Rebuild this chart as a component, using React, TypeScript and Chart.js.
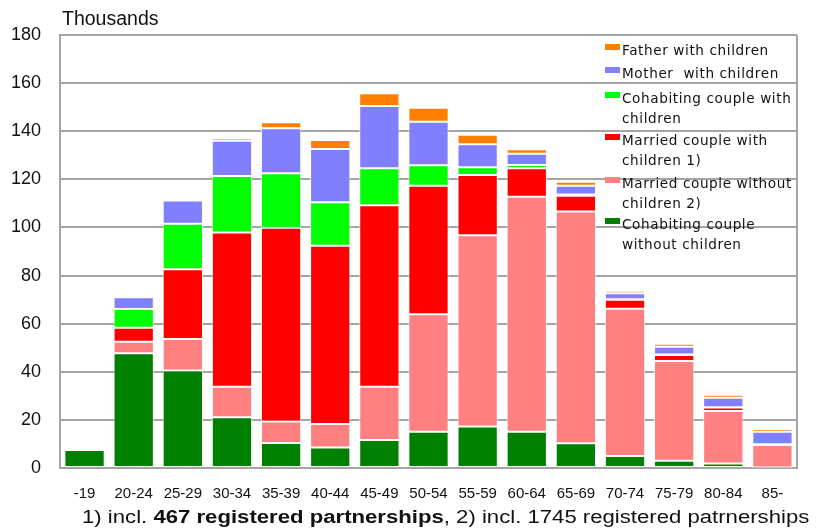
import React, { useEffect, useRef } from "react";
import { Chart, registerables } from "chart.js";

Chart.register(...registerables);

const categories = ["-19", "20-24", "25-29", "30-34", "35-39", "40-44", "45-49", "50-54", "55-59", "60-64", "65-69", "70-74", "75-79", "80-84", "85-"];

const cohabWithout = [7.5, 47.7, 40.5, 21.1, 10.4, 8.5, 11.6, 15.1, 17.2, 15.1, 10.3, 5.0, 3.0, 1.9, 0.2];
const marriedWithout = [0, 4.8, 13.1, 12.7, 8.9, 9.8, 22.2, 48.8, 79.6, 97.7, 96.3, 61.2, 41.5, 21.8, 9.4];
const marriedWith = [0, 5.8, 29.0, 64.1, 80.6, 74.1, 75.4, 53.4, 25.0, 11.8, 6.6, 3.7, 2.5, 1.4, 0.2];
const cohabWith = [0, 7.8, 18.9, 23.5, 22.6, 18.1, 15.4, 8.6, 3.2, 1.4, 0.5, 0.3, 0.2, 0.2, 0.1];
const mother = [0, 4.9, 9.7, 14.6, 18.7, 22.1, 25.9, 18.0, 9.6, 4.6, 3.6, 2.4, 3.2, 3.9, 5.2];
const father = [0, 0.3, 0.2, 1.1, 2.5, 3.8, 5.3, 5.9, 3.9, 1.9, 1.7, 1.1, 1.3, 1.2, 1.1];

const yTicks = [0, 20, 40, 60, 80, 100, 120, 140, 160, 180];

const series = [
  { label: "Cohabiting couple without children", data: cohabWithout, color: "#008000" },
  { label: "Married couple without children 2)", data: marriedWithout, color: "#FF8080" },
  { label: "Married couple with children 1)", data: marriedWith, color: "#FF0000" },
  { label: "Cohabiting couple with children", data: cohabWith, color: "#00FF00" },
  { label: "Mother with children", data: mother, color: "#8080FF" },
  { label: "Father with children", data: father, color: "#FF8000" },
];

const legendItems = [
  { lines: ["Father with children"], color: "#FF8000", top: 40 },
  { lines: ["Mother  with children"], color: "#8080FF", top: 63 },
  { lines: ["Cohabiting couple with", "children"], color: "#00FF00", top: 88 },
  { lines: ["Married couple with", "children 1)"], color: "#FF0000", top: 130 },
  { lines: ["Married couple without", "children 2)"], color: "#FF8080", top: 173 },
  { lines: ["Cohabiting couple", "without children"], color: "#008000", top: 214 },
];

const gridColor = "#a4a4a4";

export default function App() {
  const ref = useRef<HTMLCanvasElement | null>(null);

  useEffect(() => {
    if (!ref.current) return;
    const rightBorder = {
      id: "rightBorder",
      beforeDatasetsDraw(chart: any) {
        const { ctx, chartArea } = chart;
        ctx.save();
        ctx.strokeStyle = gridColor;
        ctx.lineWidth = 2;
        ctx.beginPath();
        ctx.moveTo(chartArea.right, chartArea.top);
        ctx.lineTo(chartArea.right, chartArea.bottom);
        ctx.stroke();
        ctx.restore();
      },
    };
    const chart = new Chart(ref.current, {
      type: "bar",
      data: {
        labels: categories,
        datasets: series.map((s) => ({
          label: s.label,
          data: s.data,
          backgroundColor: s.color,
          borderColor: "rgba(255,255,255,0.75)",
          borderWidth: 1,
          borderSkipped: false,
          categoryPercentage: 1,
          barPercentage: 0.82,
        })),
      },
      options: {
        responsive: false,
        animation: false,
        layout: { padding: { top: 35, right: 19, left: 0, bottom: 0 } },
        plugins: { legend: { display: false }, tooltip: { enabled: false } },
        scales: {
          x: {
            stacked: true,
            grid: { display: false, drawTicks: false },
            border: { display: true, color: gridColor, width: 2 },
            ticks: {
              font: { family: "'Liberation Sans', Arial, sans-serif", size: 15 },
              color: "#111",
              padding: 17,
              maxRotation: 0,
              autoSkip: false,
            },
            afterFit: (s: any) => {
              s.height = 64;
            },
          },
          y: {
            stacked: true,
            min: 0,
            max: 180,
            afterBuildTicks: (s: any) => {
              s.ticks = yTicks.map((v) => ({ value: v }));
            },
            grid: { color: gridColor, lineWidth: 2, drawTicks: false },
            border: { display: true, color: gridColor, width: 2 },
            ticks: {
              font: { family: "'Liberation Sans', Arial, sans-serif", size: 18 },
              color: "#111",
              padding: 19,
            },
            afterFit: (s: any) => {
              s.width = 60;
            },
          },
        },
      },
      plugins: [rightBorder],
    });
    return () => chart.destroy();
  }, []);

  return (
    <div style={{ position: "absolute", left: 0, top: 0, width: 816, height: 532, background: "#fff", overflow: "hidden" }}>
      <canvas ref={ref} width={816} height={532} style={{ position: "absolute", left: 0, top: 0 }} />
      <div
        style={{
          position: "absolute",
          left: 62,
          top: 6,
          fontFamily: "'Liberation Sans', Arial, sans-serif",
          fontSize: 19.5,
          color: "#111",
          lineHeight: "24px",
        }}
      >
        Thousands
      </div>
      {legendItems.map((it, i) => (
        <div key={i} style={{ position: "absolute", left: 605, top: it.top, width: 210 }}>
          <div style={{ position: "absolute", left: 0, top: 4, width: 15, height: 6, background: it.color }} />
          {it.lines.map((ln, j) => (
            <div
              key={j}
              style={{
                position: "absolute",
                left: 17,
                top: j * 20,
                whiteSpace: "pre",
                fontFamily: "'DejaVu Sans', Verdana, sans-serif",
                fontSize: 13.6,
                letterSpacing: "0.6px",
                lineHeight: "20px",
                color: "#111",
              }}
            >
              {ln}
            </div>
          ))}
        </div>
      ))}
      <div
        style={{
          position: "absolute",
          left: 82,
          top: 505,
          whiteSpace: "nowrap",
          fontFamily: "'Liberation Sans', Arial, sans-serif",
          fontSize: 18,
          lineHeight: "24px",
          color: "#111",
          transform: "scaleX(1.23)",
          transformOrigin: "left top",
        }}
      >
        1) incl. <b>467 registered partnerships</b>, 2) incl. 1745 registered patrnerships
      </div>
    </div>
  );
}
